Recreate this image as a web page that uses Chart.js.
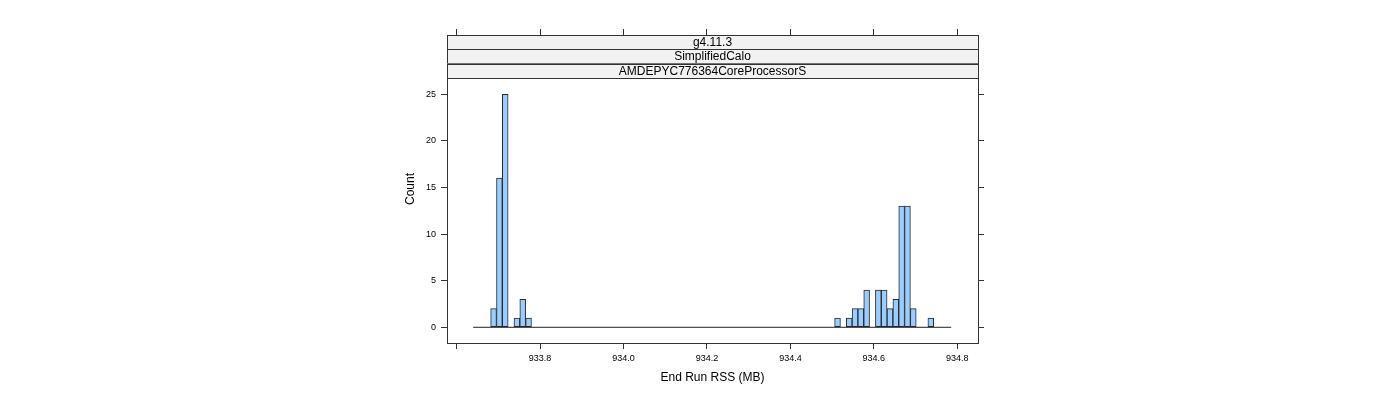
<!DOCTYPE html>
<html><head><meta charset="utf-8">
<script src="https://cdn.jsdelivr.net/npm/chart.js@4/dist/chart.umd.min.js"></script>
<style>html,body{margin:0;padding:0;background:#fff;overflow:hidden;}</style>
</head><body>
<canvas id="c" width="1400" height="400" style="display:block;width:1400px;height:400px"></canvas>
<script>
// ---- data ----
const binCenters = [933.6884, 933.7024, 933.7164, 933.7443, 933.7583, 933.7723,
  934.5129, 934.5408, 934.5548, 934.5687, 934.5827, 934.6107, 934.6247,
  934.6386, 934.6526, 934.6666, 934.6806, 934.6945, 934.7365];
const counts = [2, 16, 25, 1, 3, 1,
  1, 1, 2, 2, 4, 4, 4,
  2, 3, 13, 13, 2, 1];
const histRange = [933.6395, 934.7854];          // first / last break of the histogram
const xTickValues = [933.6, 933.8, 934.0, 934.2, 934.4, 934.6, 934.8];
const xTickLabels = ['', '933.8', '934.0', '934.2', '934.4', '934.6', '934.8'];
const yTickValues = [0, 5, 10, 15, 20, 25];
const stripLabels = ['g4.11.3', 'SimplifiedCalo', 'AMDEPYC776364CoreProcessorS'];
const xTitle = 'End Run RSS (MB)';
const yTitle = 'Count';
const xLimits = [933.5768, 934.8496];
const yLimits = [-1.685, 31.36];
const panelTop = 78;   // bottom of strips

Chart.defaults.font.family = '"Liberation Sans", Arial, sans-serif';
Chart.defaults.color = '#000';

const axisCol = '#333';
const setTicks = vals => scale => { scale.ticks = vals.map(v => ({value: v})); };

const stripPlugin = {
  id: 'strips',
  afterDraw(chart) {
    const {ctx, chartArea: a} = chart;
    const h = (panelTop - a.top) / stripLabels.length;
    const L = Math.round(a.left), R = Math.round(a.right);
    ctx.save();
    stripLabels.forEach((t, i) => {
      const y0 = a.top + i * h;
      ctx.fillStyle = '#f2f2f2';
      ctx.fillRect(L, y0, R - L, h);
      ctx.strokeStyle = axisCol;
      ctx.lineWidth = 1;
      ctx.strokeRect(L + 0.5, Math.round(y0) + 0.5, R - L, Math.round(h));
      ctx.fillStyle = '#000';
      ctx.font = '12px "Liberation Sans", Arial, sans-serif';
      ctx.textAlign = 'center';
      ctx.textBaseline = 'middle';
      ctx.fillText(t, (a.left + a.right) / 2, y0 + h / 2 + 0.5);
    });
    ctx.restore();
  }
};

new Chart(document.getElementById('c'), {
  data: {
    datasets: [
      {
        type: 'line',
        data: [{x: histRange[0], y: 0}, {x: histRange[1], y: 0}],
        borderColor: '#222', borderWidth: 1, pointRadius: 0, order: 0
      },
      {
        type: 'bar',
        data: binCenters.map((x, i) => ({x: x, y: counts[i]})),
        backgroundColor: '#99CCFF',
        borderColor: '#2a2a2a',
        borderWidth: 1,
        borderSkipped: false,
        barPercentage: 1,
        categoryPercentage: 1,
        order: 1
      }
    ]
  },
  plugins: [stripPlugin],
  options: {
    responsive: false,
    animation: false,
    devicePixelRatio: 1,
    layout: {padding: {left: 395, right: 0, top: 0, bottom: 0}},
    plugins: {legend: {display: false}, tooltip: {enabled: false}},
    scales: {
      x: {
        type: 'linear', position: 'bottom', min: xLimits[0], max: xLimits[1],
        offset: false,
        afterBuildTicks: setTicks(xTickValues),
        afterFit: s => { s.height = 57; },
        ticks: {
          font: {size: 9}, padding: 4, maxRotation: 0, autoSkip: false,
          callback: (v, i) => xTickLabels[i]
        },
        grid: {offset: false, drawOnChartArea: false, tickLength: 6, tickColor: axisCol},
        border: {display: true, color: axisCol},
        title: {display: true, text: xTitle, font: {size: 12}, padding: {top: 0, bottom: 15}}
      },
      x2: {
        type: 'linear', position: 'top', min: xLimits[0], max: xLimits[1],
        offset: false,
        afterBuildTicks: setTicks(xTickValues),
        afterFit: s => { s.height = 35; },
        ticks: {callback: () => '', font: {size: 9}},
        grid: {offset: false, drawOnChartArea: false, tickLength: 6, tickColor: axisCol},
        border: {display: true, color: axisCol}
      },
      y: {
        type: 'linear', position: 'left', min: yLimits[0], max: yLimits[1],
        afterBuildTicks: setTicks(yTickValues),
        afterFit: s => { s.width = 52; },
        ticks: {font: {size: 9}, padding: 5},
        grid: {drawOnChartArea: false, tickLength: 6, tickColor: axisCol},
        border: {display: true, color: axisCol},
        title: {display: true, text: yTitle, font: {size: 12}, padding: {top: 8, bottom: 0}}
      },
      y2: {
        type: 'linear', position: 'right', min: yLimits[0], max: yLimits[1],
        afterBuildTicks: setTicks(yTickValues),
        afterFit: s => { s.width = 422; },
        ticks: {callback: () => '', font: {size: 9}},
        grid: {drawOnChartArea: false, tickLength: 6, tickColor: axisCol},
        border: {display: true, color: axisCol}
      }
    }
  }
});
</script>
</body></html>
